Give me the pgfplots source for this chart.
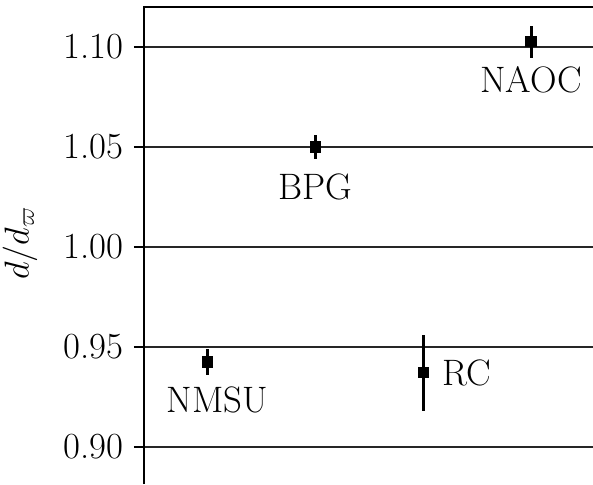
\documentclass[border=0pt]{standalone}
\usepackage{pgfplots}
\pgfplotsset{compat=1.18}
\begin{document}
\begin{tikzpicture}
\begin{axis}[
  scale only axis,
  width=224.5pt, height=238.5pt,
  xmin=-0.59, xmax=3.575,
  ymin=0.8815, ymax=1.12,
  xtick=\empty,
  ytick={0.90,0.95,1.00,1.05,1.10},
  yticklabels={0.90,0.95,1.00,1.05,1.10},
  ytick pos=left,
  tick align=outside,
  major tick length=5pt,
  every tick/.style={black, line width=0.8pt},
  ymajorgrids,
  grid style={black!85, line width=0.8pt},
  axis line style={draw=none},
  yticklabel style={font=\fontsize{18.4}{22}\selectfont, inner sep=0pt, anchor=east, xshift=-5.25pt},
  ylabel={$d/d_\varpi$},
  every axis y label/.style={at={(axis description cs:-0.276,0.505)}, rotate=90, anchor=center, font=\fontsize{18.4}{22}\selectfont},
  clip=false,
]
\addplot[only marks, mark=square*, mark size=2.6pt, black,
  error bars/.cd, y dir=both, y explicit, error mark=none,
  error bar style={line width=1.5pt, black}]
  coordinates {
  (0, 0.9425) +- (0, 0.0066)
  (1, 1.0500) +- (0, 0.0058)
  (2, 0.9372) +- (0, 0.0190)
  (3, 1.1027) +- (0, 0.0080)
};
\draw[black, line width=1pt] (rel axis cs:0,0) -- (rel axis cs:0,1) -- (rel axis cs:1,1);
\begin{scope}[every node/.style={font=\fontsize{18.4}{22}\selectfont, inner sep=0pt}]
\node at (axis cs:3,1.0835) {NAOC};
\node at (axis cs:1,1.030) {BPG};
\node at (axis cs:0.088,0.9233) {NMSU};
\node at (axis cs:2.405,0.937) {RC};
\end{scope}
\end{axis}
\pgfresetboundingbox
\path (-72pt,0) rectangle (224.5pt,242pt);
\end{tikzpicture}
\end{document}
